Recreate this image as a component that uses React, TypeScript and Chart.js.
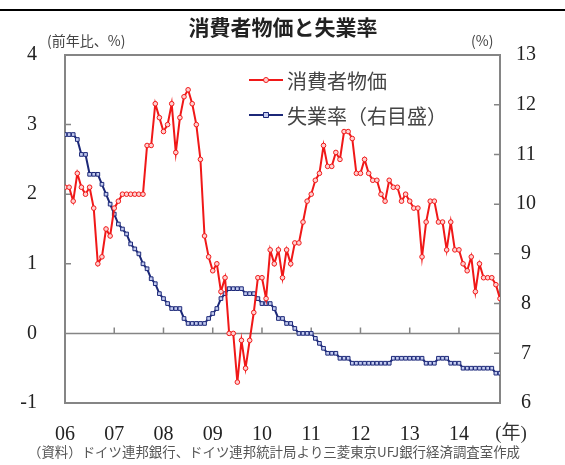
import React, { useEffect, useRef } from 'react';
import { Chart, registerables } from 'chart.js';

Chart.register(...registerables);

const title = '消費者物価と失業率';
const leftUnit = '(前年比、%)';
const rightUnit = '(%)';
const xUnit = '(年)';
const source = '（資料）ドイツ連邦銀行、ドイツ連邦統計局より三菱東京UFJ銀行経済調査室作成';

const yearLabels = ['06', '07', '08', '09', '10', '11', '12', '13', '14'];
const yearStartMonths = [0, 12, 24, 36, 48, 60, 72, 84, 96];

const cpiLabel = '消費者物価';
const unempLabel = '失業率（右目盛）';

// monthly, Jan 2006 - Nov 2014
const cpi = [
  2.1, 2.1, 1.9, 2.3, 2.1, 2.0, 2.1, 1.8, 1.0, 1.1, 1.5, 1.4,
  1.8, 1.9, 2.0, 2.0, 2.0, 2.0, 2.0, 2.0, 2.7, 2.7, 3.3, 3.1,
  2.9, 3.0, 3.3, 2.6, 3.1, 3.4, 3.5, 3.3, 3.0, 2.5, 1.4, 1.1,
  0.9, 1.0, 0.6, 0.8, 0.0, 0.0, -0.7, -0.1, -0.5, -0.1, 0.3, 0.8,
  0.8, 0.5, 1.2, 1.0, 1.2, 0.8, 1.2, 1.0, 1.3, 1.3, 1.6, 1.9,
  2.0, 2.2, 2.3, 2.7, 2.4, 2.4, 2.6, 2.5, 2.9, 2.9, 2.8, 2.3,
  2.3, 2.5, 2.3, 2.2, 2.2, 2.0, 1.9, 2.2, 2.1, 2.1, 1.9, 2.0,
  1.9, 1.8, 1.8, 1.1, 1.6, 1.9, 1.9, 1.6, 1.6, 1.2, 1.6, 1.2,
  1.2, 1.0, 0.9, 1.1, 0.6, 1.0, 0.8, 0.8, 0.8, 0.7, 0.5,
];

const unemployment = [
  11.4, 11.4, 11.4, 11.3, 11.0, 11.0, 10.6, 10.6, 10.6, 10.4, 10.2, 10.0,
  9.8, 9.6, 9.5, 9.4, 9.2, 9.1, 9.0, 8.8, 8.7, 8.5, 8.4, 8.2,
  8.1, 8.0, 7.9, 7.9, 7.9, 7.7, 7.6, 7.6, 7.6, 7.6, 7.6, 7.7,
  7.8, 7.9, 8.1, 8.2, 8.3, 8.3, 8.3, 8.3, 8.2, 8.2, 8.2, 8.1,
  8.0, 8.0, 8.0, 7.9, 7.7, 7.7, 7.6, 7.6, 7.5, 7.4, 7.4, 7.4,
  7.4, 7.3, 7.2, 7.1, 7.0, 7.0, 7.0, 6.9, 6.9, 6.9, 6.8, 6.8,
  6.8, 6.8, 6.8, 6.8, 6.8, 6.8, 6.8, 6.8, 6.9, 6.9, 6.9, 6.9,
  6.9, 6.9, 6.9, 6.9, 6.8, 6.8, 6.8, 6.9, 6.9, 6.9, 6.8, 6.8,
  6.8, 6.7, 6.7, 6.7, 6.7, 6.7, 6.7, 6.7, 6.7, 6.6, 6.6,
];

const SERIF = '"Liberation Serif", "Times New Roman", "Noto Sans CJK JP", serif';
const SANS = '"Noto Sans CJK JP", "Noto Sans", sans-serif';
const RED = '#f01818';
const NAVY = '#1c2878';
const FRAME = '#858585';

const decor = {
  id: 'decor',
  beforeDatasetsDraw(chart: any) {
    const { ctx, chartArea: a } = chart;
    const sx = chart.scales.x;
    const sy = chart.scales.y;
    const sy2 = chart.scales.y2;
    ctx.save();
    ctx.strokeStyle = FRAME;
    ctx.lineWidth = 1.5;
    const y0 = sy.getPixelForValue(0);
    ctx.beginPath();
    ctx.moveTo(a.left, y0);
    ctx.lineTo(a.right, y0);
    sx.ticks.forEach((t: any) => {
      const px = sx.getPixelForValue(t.value);
      if (px > a.left + 2 && px < a.right - 2) {
        ctx.moveTo(px, y0);
        ctx.lineTo(px, y0 - 6);
      }
    });
    sy.ticks.forEach((t: any) => {
      const py = sy.getPixelForValue(t.value);
      ctx.moveTo(a.left, py);
      ctx.lineTo(a.left + 6, py);
    });
    sy2.ticks.forEach((t: any) => {
      const py = sy2.getPixelForValue(t.value);
      ctx.moveTo(a.right - 6, py);
      ctx.lineTo(a.right, py);
    });
    ctx.stroke();
    ctx.lineWidth = 2;
    ctx.strokeRect(a.left, a.top, a.right - a.left, a.bottom - a.top);
    ctx.restore();
  },
  afterDraw(chart: any) {
    const { ctx } = chart;
    ctx.save();
    // top rule
    ctx.fillStyle = '#000';
    ctx.fillRect(0, 9, 565, 2);
    // title
    ctx.fillStyle = '#222';
    ctx.font = `bold 21px ${SANS}`;
    ctx.textAlign = 'center';
    ctx.textBaseline = 'middle';
    ctx.fillText(title, 283, 27);
    // units
    ctx.font = `14px ${SANS}`;
    ctx.fillStyle = '#444';
    ctx.textAlign = 'left';
    ctx.fillText(leftUnit, 47, 41);
    ctx.fillText(rightUnit, 471, 41);
    ctx.font = `19px ${SERIF}`;
    ctx.fillStyle = '#333';
    ctx.textAlign = 'center';
    ctx.fillText(xUnit, 511, 434);
    // source
    ctx.font = `13.5px ${SANS}`;
    ctx.fillStyle = '#555';
    ctx.textAlign = 'left';
    ctx.fillText(source, 28, 452, 492);
    // legend
    const rows = [80, 115];
    chart.data.datasets.forEach((ds: any, i: number) => {
      const y = rows[i];
      ctx.strokeStyle = ds.borderColor;
      ctx.lineWidth = 2;
      ctx.beginPath();
      ctx.moveTo(249, y);
      ctx.lineTo(283, y);
      ctx.stroke();
      ctx.lineWidth = 1;
      ctx.fillStyle = ds.pointBackgroundColor;
      ctx.strokeStyle = ds.pointBorderColor;
      ctx.beginPath();
      if (ds.pointStyle === 'rect') {
        ctx.rect(266 - 2.5, y - 2.5, 5, 5);
      } else {
        ctx.arc(266, y, 2.5, 0, Math.PI * 2);
      }
      ctx.fill();
      ctx.stroke();
      ctx.fillStyle = '#444';
      ctx.font = `20px ${SANS}`;
      ctx.textAlign = 'left';
      ctx.textBaseline = 'middle';
      ctx.fillText(ds.label, 287, y + 1);
    });
    ctx.restore();
  },
};

export default function App() {
  const ref = useRef<HTMLCanvasElement>(null);
  useEffect(() => {
    const canvas = ref.current!;
    const tickFont = { family: SERIF, size: 20 };
    const chart = new Chart(canvas, {
      type: 'line',
      data: {
        datasets: [
          {
            label: cpiLabel,
            data: cpi.map((v, i) => ({ x: i, y: v })),
            yAxisID: 'y',
            borderColor: RED,
            borderWidth: 2,
            pointStyle: 'circle',
            pointRadius: 2.3,
            pointBorderWidth: 1,
            pointBackgroundColor: '#ffd0d0',
            pointBorderColor: RED,
            tension: 0,
          },
          {
            label: unempLabel,
            data: unemployment.map((v, i) => ({ x: i, y: v })),
            yAxisID: 'y2',
            borderColor: NAVY,
            borderWidth: 2,
            pointStyle: 'rect',
            pointRadius: 2.6,
            pointBorderWidth: 1,
            pointBackgroundColor: '#c4ccf0',
            pointBorderColor: NAVY,
            tension: 0,
          },
        ],
      },
      options: {
        animation: false,
        responsive: false,
        layout: { padding: { top: 55, left: 0, right: 0, bottom: 0 } },
        plugins: {
          legend: { display: false },
          title: { display: false },
          tooltip: { enabled: false },
        },
        scales: {
          x: {
            type: 'linear',
            position: 'bottom',
            min: 0,
            max: 106,
            afterBuildTicks: (s: any) => {
              s.ticks = yearStartMonths.map((v) => ({ value: v }));
            },
            afterFit: (s: any) => {
              s.height = 62;
            },
            ticks: {
              callback: (_v: any, i: number) => yearLabels[i],
              font: tickFont,
              color: '#222',
              padding: 20,
              maxRotation: 0,
              autoSkip: false,
            },
            grid: { display: false, drawTicks: false },
            border: { display: false },
          },
          y: {
            position: 'left',
            min: -1,
            max: 4,
            afterFit: (s: any) => {
              s.width = 65;
            },
            ticks: { stepSize: 1, font: tickFont, color: '#222', padding: 28 },
            grid: { display: false, drawTicks: false },
            border: { display: false },
          },
          y2: {
            position: 'right',
            min: 6,
            max: 13,
            afterFit: (s: any) => {
              s.width = 65;
            },
            ticks: { stepSize: 1, font: tickFont, color: '#222', padding: 16, crossAlign: 'center' },
            grid: { display: false, drawTicks: false },
            border: { display: false },
          },
        },
      } as any,
      plugins: [decor],
    });
    return () => chart.destroy();
  }, []);
  return (
    <div style={{ position: 'absolute', left: 0, top: 0, width: 565, height: 465, background: '#fff' }}>
      <canvas ref={ref} width={565} height={465} style={{ width: 565, height: 465, display: 'block' }} />
    </div>
  );
}
